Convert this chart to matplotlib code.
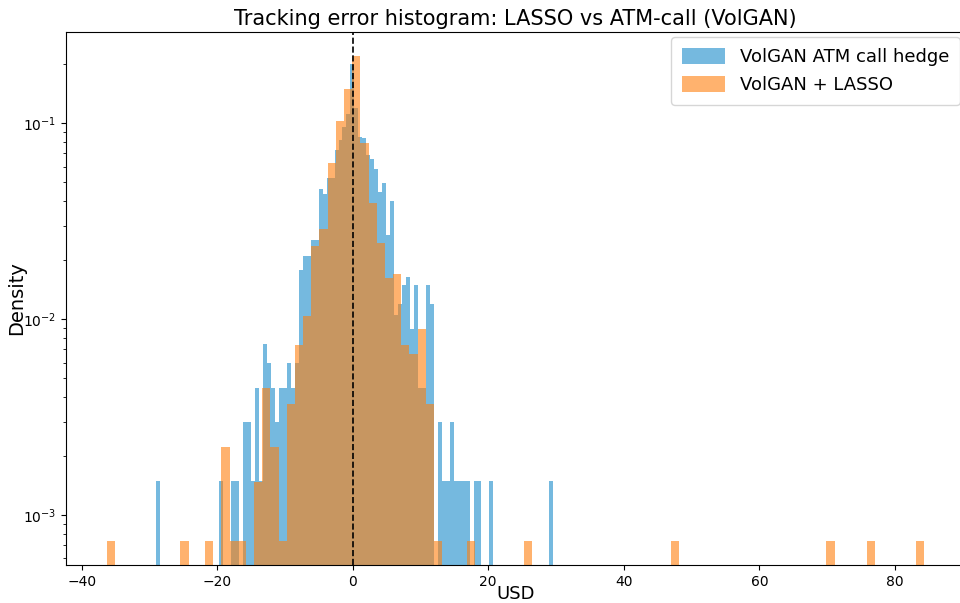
import numpy as np
import matplotlib
matplotlib.use('Agg')
import matplotlib.pyplot as plt

# bin counts (100 bins per series)
blue_range = (-29.04, 29.54)
blue_counts = [
    1, 0, 0, 0, 0, 0, 0, 0, 0, 0,
    0, 0, 0, 0, 0, 0, 1, 0, 0, 1,
    1, 0, 2, 2, 1, 3, 1, 5, 4, 3,
    2, 3, 3, 4, 3, 4, 12, 14, 14, 17,
    17, 31, 29, 35, 35, 49, 55, 64, 75, 134,
    80, 57, 56, 46, 44, 39, 30, 33, 18, 27,
    7, 8, 10, 11, 6, 10, 3, 3, 10, 8,
    0, 2, 1, 1, 2, 1, 1, 1, 1, 0,
    1, 1, 0, 0, 1, 0, 0, 0, 0, 0,
    0, 0, 0, 0, 0, 0, 0, 0, 0, 1]

orange_range = (-36.27, 84.36)
orange_counts = [
    1, 0, 0, 0, 0, 0, 0, 0, 0, 1,
    0, 0, 1, 0, 3, 1, 1, 0, 2, 6,
    3, 1, 5, 10, 14, 32, 39, 85, 138, 201,
    297, 107, 53, 33, 22, 23, 10, 9, 12, 5,
    1, 0, 0, 0, 1, 0, 0, 0, 0, 0,
    0, 1, 0, 0, 0, 0, 0, 0, 0, 0,
    0, 0, 0, 0, 0, 0, 0, 0, 0, 1,
    0, 0, 0, 0, 0, 0, 0, 0, 0, 0,
    0, 0, 0, 0, 0, 0, 0, 0, 1, 0,
    0, 0, 0, 1, 0, 0, 0, 0, 0, 1]

labels = ['VolGAN ATM call hedge', 'VolGAN + LASSO']
colors = ['#1a8bcb', 'tab:orange']


def hist_from_counts(ax, counts, rng, label, color):
    edges = np.linspace(rng[0], rng[1], len(counts) + 1)
    centers = 0.5 * (edges[:-1] + edges[1:])
    ax.hist(centers, bins=edges, weights=counts, density=True, alpha=0.6,
            label=label, color=color)


fig = plt.figure(figsize=(9.6, 6.03), dpi=100)
ax = fig.add_axes([0.06875, 0.063, 0.9368, 0.884])

hist_from_counts(ax, blue_counts, blue_range, labels[0], colors[0])
hist_from_counts(ax, orange_counts, orange_range, labels[1], colors[1])

ax.axvline(0, color='k', linestyle='--', linewidth=1.2)
ax.set_yscale('log')
ax.set_title('Tracking error histogram: LASSO vs ATM-call (VolGAN)',
             fontsize=15, pad=5)
ax.set_xlabel('USD', fontsize=13, labelpad=-3)
ax.set_ylabel('Density', fontsize=14, labelpad=-2)
ax.legend(fontsize=13, loc='upper right', handlelength=2.4,
          handleheight=1.0, borderaxespad=0.3, borderpad=0.6)

plt.savefig('out.png', dpi=100)
